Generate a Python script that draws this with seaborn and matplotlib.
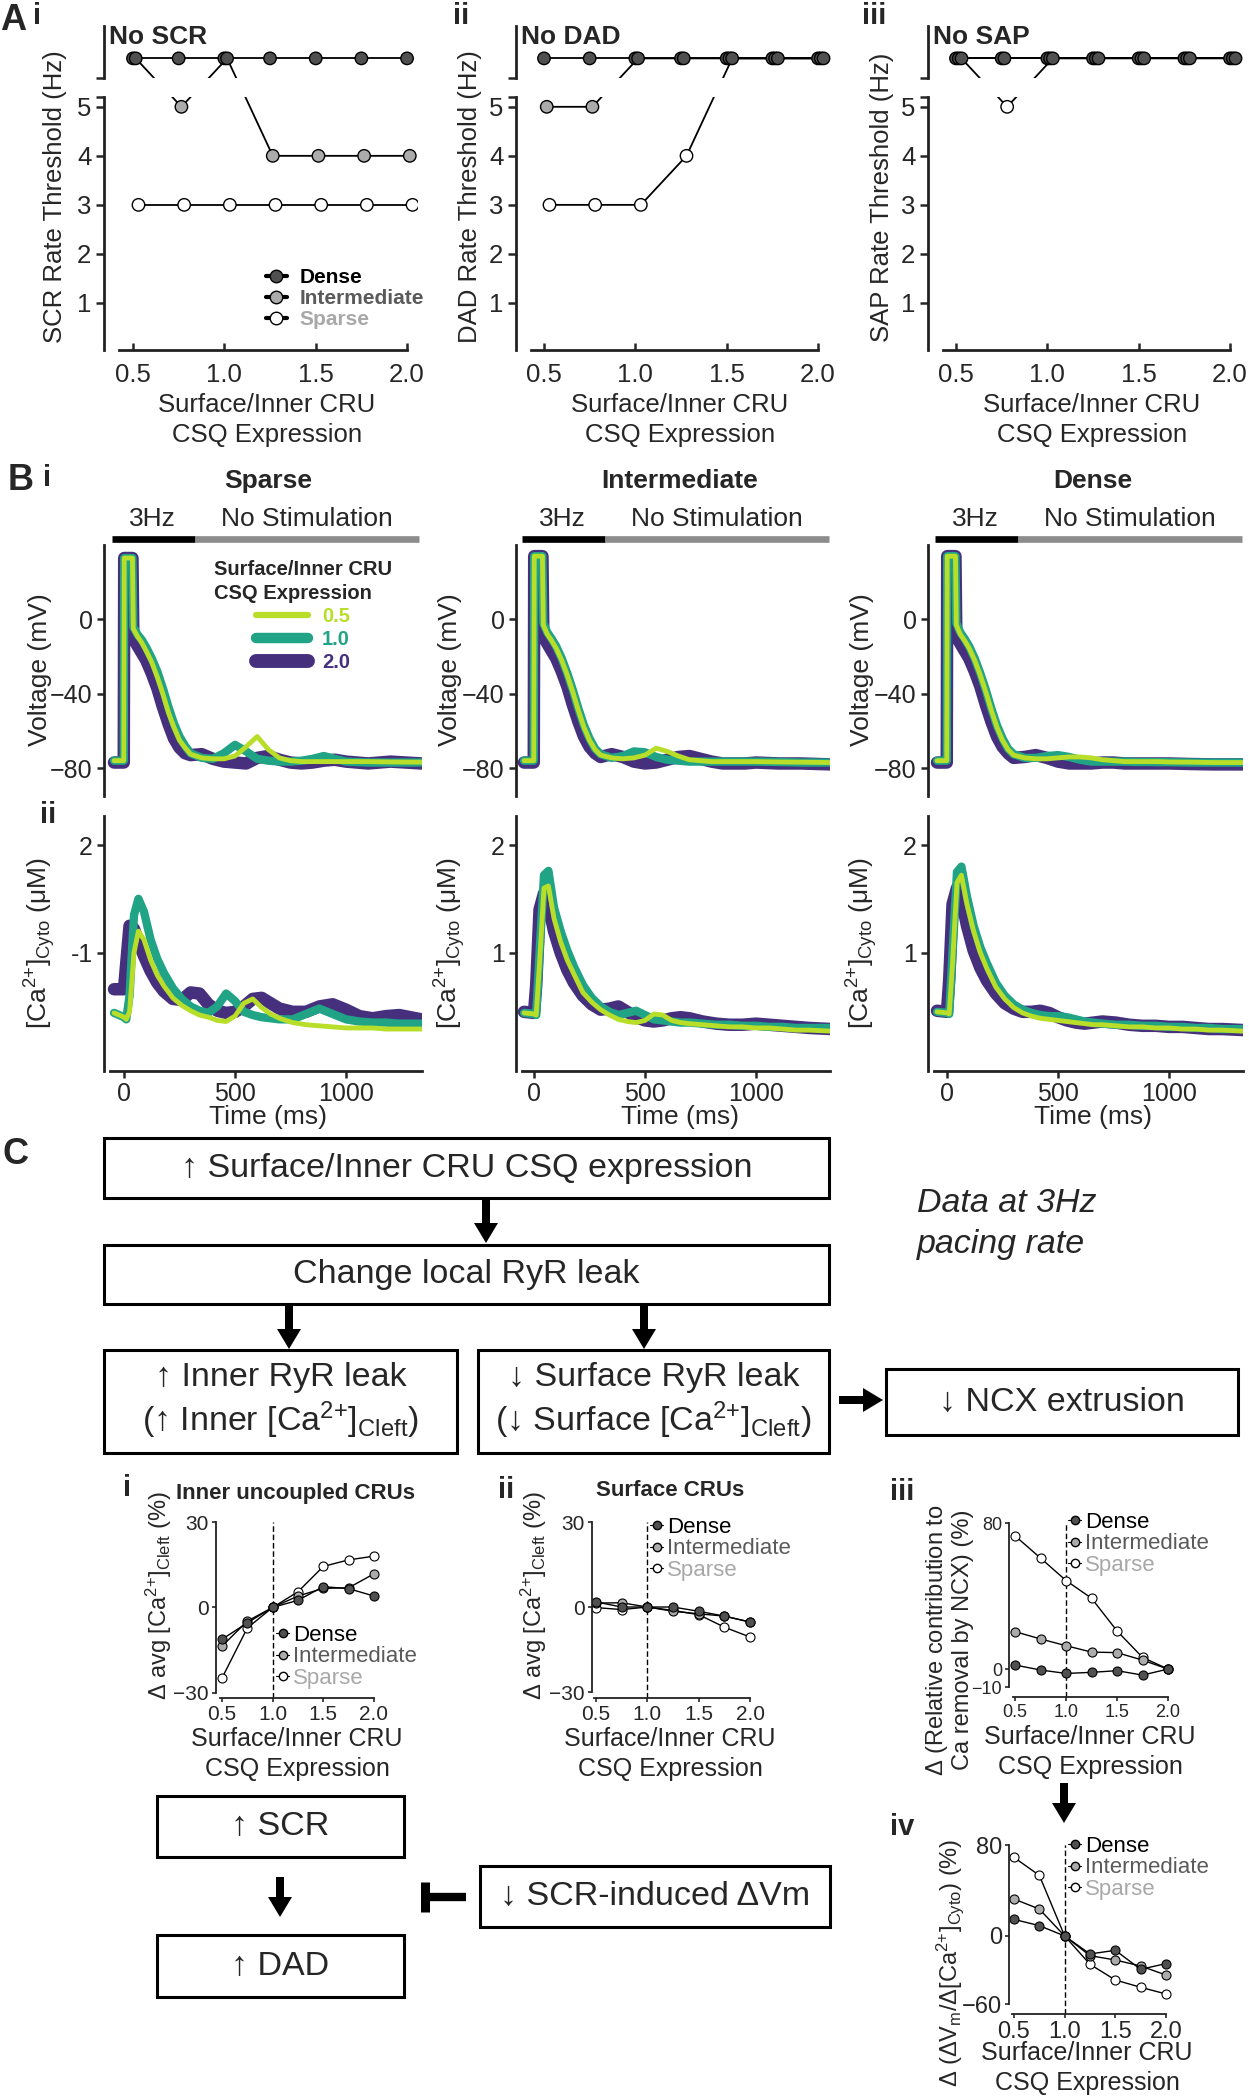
import matplotlib
matplotlib.use("Agg")
import matplotlib.pyplot as plt
import matplotlib.transforms as mtransforms
from matplotlib.patches import Rectangle, FancyArrow
from matplotlib.lines import Line2D
import seaborn as sns

W, H = 1249, 2100

# ---------------- data ----------------
csq = [0.5, 0.75, 1.0, 1.25, 1.5, 1.75, 2.0]
csq_ticks = [0.5, 1.0, 1.5, 2.0]
csq_ticklabels = ['0.5', '1.0', '1.5', '2.0']
NO_EVENT = 6  # value used for the "No SCR / No DAD / No SAP" row

# A: rate thresholds (Hz)
scr_dense = [6, 6, 6, 6, 6, 6, 6]
scr_inter = [6, 5, 6, 4, 4, 4, 4]
scr_sparse = [3, 3, 3, 3, 3, 3, 3]
dad_dense = [6, 6, 6, 6, 6, 6, 6]
dad_inter = [5, 5, 6, 6, 6, 6, 6]
dad_sparse = [3, 3, 3, 4, 6, 6, 6]
sap_dense = [6, 6, 6, 6, 6, 6, 6]
sap_inter = [6, 6, 6, 6, 6, 6, 6]
sap_sparse = [6, 5, 6, 6, 6, 6, 6]

# B: traces, voltage (mV) and cytosolic Ca (uM) at CSQ 0.5 / 1.0 / 2.0
tV = [-45, -1, 1, 38, 42, 60, 80, 100, 125, 150, 175, 200, 225, 250, 275, 300, 350, 400,
      450, 500, 550, 600, 650, 700, 750, 800, 850, 900, 950, 1000, 1100, 1200, 1340]
v_sp_05 = [-76, -76, 33, 33, -5, -9, -12.5, -17, -23, -31, -40, -50, -58, -65, -69, -72.5, -74.5, -75,
           -75, -73.5, -68.5, -63, -70, -74.5, -76, -76.5, -76.5, -76.5, -76.5, -76.5, -76.5, -76.7, -76.8]
v_sp_10 = [-76, -76, 33, 33, -4, -8, -11, -15, -21, -28, -37, -47, -56, -63, -68, -72, -74.5, -75,
           -72, -67.5, -71, -75, -76, -76.5, -76.5, -76, -75, -73.5, -75, -76.5, -77, -77, -77]
v_sp_20 = [-77, -77, 33, 33, -10, -14, -18, -22, -29, -37, -47, -56, -64, -69, -72, -73, -72.5, -75,
           -76.5, -77, -77.5, -74.5, -73.5, -75.5, -77, -77.5, -77, -76, -75.5, -76.5, -77.5, -76.5, -77.5]
v_in_05 = [-76, -76, 34, 34, -3, -8, -11.5, -15.5, -22, -30, -39, -49, -58, -65, -70, -73, -74.5, -75,
           -74.5, -73, -69.3, -71, -73.5, -75.5, -76, -76.5, -76.5, -76.5, -76.5, -76.5, -76.7, -76.8, -77]
v_in_10 = [-76, -76, 34, 34, -2, -7, -10.5, -14.5, -21, -29, -38, -48, -57, -64, -69.5, -72.5, -74.5, -73.5,
           -71, -71.5, -74, -75.5, -76, -76.5, -76.5, -76.5, -76.5, -76.5, -76.5, -76.5, -76.7, -77, -77]
v_in_20 = [-77, -77, 34, 34, -9, -13, -17, -21, -28, -36, -46, -55, -63, -68.5, -72, -74, -72.5, -74,
           -76.5, -77.5, -77, -75.5, -74, -73.5, -75, -76.5, -77.5, -77.5, -77.5, -77, -77.5, -77.5, -78]
v_de_05 = [-76, -76, 34, 34, -3, -8, -11.5, -15.5, -22, -30, -39, -49, -58, -65, -70, -73, -74.5, -75,
           -75, -74.5, -74, -74, -74.5, -75.5, -76, -76.5, -76.5, -76.5, -76.5, -76.7, -76.8, -77, -77]
v_de_10 = [-76, -76, 34, 34, -2, -7, -10.5, -14.5, -21, -29, -38, -48, -57, -64, -69.5, -72.5, -74.5, -74.5,
           -73.5, -73, -74, -75.5, -76.5, -76.5, -76.5, -76.5, -76.7, -76.7, -76.8, -76.8, -77, -77, -77]
v_de_20 = [-77, -77, 34, 34, -9, -13, -17, -21, -28, -36, -46, -55, -63, -68.5, -72, -74.5, -74, -73,
           -74.5, -76.5, -77.5, -77.5, -77.5, -77, -77, -77.5, -77.5, -77.5, -77.5, -77.5, -77.8, -78, -78]

tC = [-45, 0, 10, 25, 45, 65, 90, 120, 150, 180, 220, 260, 300, 340, 380, 420, 460, 500,
      540, 580, 620, 660, 700, 760, 820, 880, 940, 1000, 1060, 1120, 1180, 1240, 1340]
c_sp_05 = [0.44, 0.40, 0.38, 0.45, 1.0, 1.2, 1.12, 0.93, 0.79, 0.69, 0.58, 0.51, 0.46, 0.42, 0.40, 0.37, 0.36,
           0.41, 0.53, 0.57, 0.49, 0.43, 0.39, 0.35, 0.33, 0.32, 0.31, 0.30, 0.30, 0.30, 0.29, 0.29, 0.29]
c_sp_10 = [0.44, 0.40, 0.38, 0.6, 1.35, 1.5, 1.38, 1.12, 0.94, 0.81, 0.67, 0.57, 0.50, 0.46, 0.44, 0.50, 0.62,
           0.55, 0.45, 0.42, 0.40, 0.39, 0.38, 0.38, 0.43, 0.48, 0.43, 0.38, 0.36, 0.35, 0.35, 0.34, 0.34]
c_sp_20 = [0.66, 0.66, 0.9, 1.25, 1.22, 1.1, 0.97, 0.83, 0.72, 0.64, 0.57, 0.56, 0.63, 0.62, 0.52, 0.46, 0.44,
           0.45, 0.50, 0.57, 0.58, 0.53, 0.48, 0.45, 0.45, 0.50, 0.52, 0.47, 0.41, 0.39, 0.41, 0.42, 0.38]
c_in_05 = [0.44, 0.43, 0.42, 0.9, 1.6, 1.62, 1.32, 1.1, 0.93, 0.8, 0.63, 0.54, 0.47, 0.42, 0.38, 0.36, 0.35,
           0.37, 0.43, 0.42, 0.37, 0.35, 0.34, 0.33, 0.32, 0.31, 0.31, 0.30, 0.30, 0.29, 0.28, 0.28, 0.27]
c_in_10 = [0.44, 0.43, 0.42, 1.0, 1.72, 1.76, 1.42, 1.2, 1.02, 0.87, 0.70, 0.58, 0.50, 0.45, 0.42, 0.44, 0.46,
           0.42, 0.38, 0.37, 0.36, 0.35, 0.35, 0.34, 0.33, 0.33, 0.32, 0.32, 0.31, 0.31, 0.30, 0.30, 0.30]
c_in_20 = [0.45, 0.44, 0.7, 1.4, 1.55, 1.45, 1.2, 1.0, 0.84, 0.72, 0.60, 0.52, 0.47, 0.48, 0.50, 0.45, 0.40,
           0.37, 0.36, 0.37, 0.39, 0.40, 0.39, 0.36, 0.34, 0.33, 0.33, 0.34, 0.33, 0.32, 0.31, 0.30, 0.29]
c_de_05 = [0.45, 0.44, 0.43, 0.9, 1.65, 1.72, 1.45, 1.2, 1.0, 0.85, 0.68, 0.57, 0.49, 0.44, 0.41, 0.39, 0.38,
           0.37, 0.36, 0.35, 0.34, 0.33, 0.33, 0.32, 0.31, 0.31, 0.30, 0.30, 0.29, 0.29, 0.28, 0.28, 0.27]
c_de_10 = [0.45, 0.44, 0.43, 1.0, 1.75, 1.8, 1.52, 1.25, 1.05, 0.9, 0.72, 0.6, 0.52, 0.47, 0.44, 0.42, 0.41,
           0.41, 0.40, 0.38, 0.36, 0.35, 0.34, 0.33, 0.33, 0.32, 0.32, 0.31, 0.31, 0.30, 0.30, 0.29, 0.29]
c_de_20 = [0.46, 0.45, 0.75, 1.45, 1.6, 1.5, 1.25, 1.02, 0.86, 0.74, 0.62, 0.53, 0.48, 0.45, 0.45, 0.46, 0.44,
           0.40, 0.37, 0.35, 0.34, 0.35, 0.36, 0.35, 0.33, 0.32, 0.32, 0.31, 0.31, 0.30, 0.29, 0.29, 0.28]

# C: percent changes
ci_dense = [-11.2, -5.4, 0, 2.5, 7.3, 6.6, 4.0]
ci_inter = [-13.6, -4.8, 0, 4.0, 6.7, 6.9, 11.8]
ci_sparse = [-24.8, -7.2, 0, 5.5, 14.4, 16.7, 18.0]
cii_dense = [1.8, 0, 0, 0, -1.5, -3.2, -5.3]
cii_inter = [1.4, 1.5, 0, -1.5, -2.4, -3.2, -5.3]
cii_sparse = [-0.2, -0.9, 0, -1.2, -2.7, -7.1, -10.6]
ciii_dense = [2.2, -0.5, -2.4, -1.8, -0.9, -3.3, 0]
ciii_inter = [20.5, 16.5, 12.8, 9.3, 9.0, 4.9, 0]
ciii_sparse = [73.0, 60.8, 48.5, 38.8, 20.9, 6.4, 0]
civ_dense = [14.6, 9.1, 0, -15.8, -12.6, -29.3, -24.3]
civ_inter = [32.5, 23.7, 0, -17.3, -21.1, -26.4, -34.3]
civ_sparse = [69.1, 53.3, 0, -24.9, -38.7, -45.1, -51.0]

groups = ['Dense', 'Intermediate', 'Sparse']
group_text_colors = ['black', '#5a5a5a', '#a8a8a8']

# colours
DENSE_C = '#505050'
INTER_C = '#ababab'
SPARSE_C = 'white'
C05, C10, C20 = '#b8de29', '#21a386', '#46307e'

CA = '[Ca$^{2{+}}$]'

sns.set_style('ticks')
plt.rcParams['font.family'] = ['Liberation Sans', 'DejaVu Sans']
plt.rcParams['mathtext.fontset'] = 'custom'
plt.rcParams['mathtext.rm'] = 'Liberation Sans'
plt.rcParams['mathtext.it'] = 'Liberation Sans:italic'
plt.rcParams['mathtext.bf'] = 'Liberation Sans:bold'
plt.rcParams['axes.linewidth'] = 2.0
plt.rcParams['axes.edgecolor'] = '#222222'

fig = plt.figure(figsize=(W / 100, H / 100), dpi=100)

# overlay in pixel coordinates for the flow chart
ov = fig.add_axes([0, 0, 1, 1])
ov.set_xlim(0, W)
ov.set_ylim(H, 0)
ov.axis('off')


def add_ax(l, t, r, b):
    ax = fig.add_axes([l / W, 1 - b / H, (r - l) / W, (b - t) / H])
    ax.set_facecolor('none')
    return ax


def ftext(x, y, s, **kw):
    kw.setdefault('ha', 'center')
    kw.setdefault('va', 'center')
    fig.text(x / W, 1 - y / H, s, **kw)


# ---------------- panel A ----------------
def threshold_panel(l, r, zero_px, dense, inter, sparse, event, ylab_x, xlab_x, legend=False):
    ppu = 182.7
    xlo = 0.5 - (zero_px - l) / ppu
    xhi = xlo + (r - l) / ppu
    top = add_ax(l, 26, r, 78)
    bot = add_ax(l, 97, r, 350)
    series = [(dense, DENSE_C, 0.0), (inter, INTER_C, 0.015), (sparse, SPARSE_C, 0.03)]
    for ax in (top, bot):
        for vals, col, off in series:
            xs = [c + off for c in csq]
            sns.lineplot(x=xs, y=vals, ax=ax, color='black', lw=1.3, estimator=None,
                         sort=False, legend=False, zorder=2)
            faces = [DENSE_C if v == NO_EVENT else col for v in vals]
            ax.scatter(xs, vals, s=80, c=faces, edgecolors='black', linewidths=1.0, zorder=3)
        ax.set_xlim(xlo, xhi)
        ax.set_xlabel('')
        ax.set_ylabel('')
    top.set_ylim(5.6, 6.66)
    sns.despine(ax=top, bottom=True)
    top.set_xticks([])
    top.set_yticks([5.6])
    top.set_yticklabels([''])
    top.tick_params(axis='y', length=6, width=1.8)
    bot.set_ylim(0.04, 5.2)
    sns.despine(ax=bot)
    bot.spines['bottom'].set_bounds(xlo + 15 / ppu, 2.0)
    bot.set_yticks([1, 2, 3, 4, 5, 5.2])
    bot.set_yticklabels(['1', '2', '3', '4', '5', ''])
    bot.set_xticks(csq_ticks)
    bot.set_xticklabels(csq_ticklabels)
    bot.tick_params(axis='y', direction='out', length=6, width=1.8, labelsize=18.5, pad=3)
    bot.tick_params(axis='x', direction='in', length=5, width=1.8, labelsize=18.5, pad=9)
    ftext(ylab_x, 197, event + ' Rate Threshold (Hz)', rotation=90, fontsize=18.5)
    ftext(xlab_x, 420, 'Surface/Inner CRU\nCSQ Expression', fontsize=18.5, linespacing=1.35)
    ftext(l + 5, 37, 'No ' + event, ha='left', fontsize=19, fontweight='bold')
    if legend:
        handles = [Line2D([], [], color='black', lw=3, marker='o', ms=9, mfc=c, mec='black')
                   for c in (DENSE_C, INTER_C, SPARSE_C)]
        bot.legend(handles, groups, loc='upper left', bbox_to_anchor=(266 / W, 1 - 268 / H),
                   bbox_transform=fig.transFigure, frameon=False,
                   prop={'weight': 'bold', 'size': 15}, labelcolor=group_text_colors,
                   handlelength=1.0, handletextpad=0.6, labelspacing=0.1, borderpad=0,
                   borderaxespad=0)


threshold_panel(104, 418, 133, scr_dense, scr_inter, scr_sparse, 'SCR', 55, 267, legend=True)
threshold_panel(516, 836, 544, dad_dense, dad_inter, dad_sparse, 'DAD', 470, 680)
threshold_panel(928, 1247, 956, sap_dense, sap_inter, sap_sparse, 'SAP', 882, 1092)

ftext(0, 20, 'A', ha='left', fontsize=26, fontweight='bold')
ftext(33, 16, 'i', ha='left', fontsize=21, fontweight='bold')
ftext(453, 16, 'ii', ha='left', fontsize=21, fontweight='bold')
ftext(862, 16, 'iii', ha='left', fontsize=21, fontweight='bold')


# ---------------- panel B ----------------
def trace_panel(l, r, zero_px, title, cx, v_list, c_list, ca_ticklabels, lab_x, legend=False):
    ppms = 111 / 500
    xlo = -(zero_px - l) / ppms
    xhi = xlo + (r - l) / ppms
    axv = add_ax(l, 545, r, 796)
    axc = add_ax(l, 816, r, 1071)
    for ax, tt, traces in ((axv, tV, v_list), (axc, tC, c_list)):
        for vals, col, lw in zip(traces, [C20, C10, C05], [9, 6, 3.5]):
            sns.lineplot(x=tt, y=vals, ax=ax, color=col, lw=lw, estimator=None, sort=False,
                         legend=False, solid_joinstyle='round', solid_capstyle='round')
        ax.set_xlim(xlo, xhi)
        ax.set_xlabel('')
        ax.set_ylabel('')
    axv.set_ylim(-95, 40)
    sns.despine(ax=axv, bottom=True)
    axv.set_xticks([])
    axv.set_yticks([-80, -40, 0])
    axc.set_ylim(-0.1, 2.27)
    sns.despine(ax=axc)
    axc.spines['bottom'].set_bounds(xlo + 6 / ppms, xhi)
    axc.set_xticks([0, 500, 1000])
    axc.set_yticks([1, 2])
    axc.set_yticklabels(ca_ticklabels)
    for ax in (axv, axc):
        ax.tick_params(labelsize=18, length=5, width=1.8, pad=3)

    trans = mtransforms.blended_transform_factory(axv.transData, axv.transAxes)
    axv.plot([-52, 322], [1.024, 1.024], transform=trans, color='black', lw=4.8,
             solid_capstyle='butt', clip_on=False)
    axv.plot([322, 1328], [1.024, 1.024], transform=trans, color='#8c8c8c', lw=4.8,
             solid_capstyle='butt', clip_on=False)
    axv.text(130, 1.104, '3Hz', transform=trans, ha='center', va='center', fontsize=19)
    axv.text(824, 1.104, 'No Stimulation', transform=trans, ha='center', va='center', fontsize=19)

    ftext(cx, 481, title, fontsize=19, fontweight='bold')
    ftext(lab_x, 670, 'Voltage (mV)', rotation=90, fontsize=19)
    ftext(lab_x, 943, CA + '$_{\\mathrm{Cyto}}$ (μM)', rotation=90, fontsize=19)
    ftext(cx, 1117, 'Time (ms)', fontsize=19)

    if legend:
        handles = [Line2D([], [], color=C05, lw=4.5), Line2D([], [], color=C10, lw=7.5),
                   Line2D([], [], color=C20, lw=10)]
        leg = fig.legend(handles, ['0.5', '1.0', '2.0'], loc='upper center',
                         bbox_to_anchor=(303 / W, 1 - 550 / H), frameon=False,
                         title='Surface/Inner CRU\nCSQ Expression',
                         title_fontproperties={'weight': 'bold', 'size': 14.5},
                         prop={'weight': 'bold', 'size': 14.5}, labelcolor=[C05, C10, C20],
                         handlelength=2.6, handletextpad=0.7, labelspacing=0.2, borderpad=0,
                         alignment='center')
        leg.get_title().set_linespacing(1.3)


trace_panel(104, 422, 124, 'Sparse', 268, [v_sp_20, v_sp_10, v_sp_05],
            [c_sp_20, c_sp_10, c_sp_05], ['-1', '2'], 40, legend=True)
trace_panel(516, 830, 534, 'Intermediate', 680, [v_in_20, v_in_10, v_in_05],
            [c_in_20, c_in_10, c_in_05], ['1', '2'], 450)
trace_panel(928, 1243, 947, 'Dense', 1093, [v_de_20, v_de_10, v_de_05],
            [c_de_20, c_de_10, c_de_05], ['1', '2'], 862)

ftext(8, 480, 'B', ha='left', fontsize=26, fontweight='bold')
ftext(43, 478, 'i', ha='left', fontsize=21, fontweight='bold')
ftext(40, 815, 'ii', ha='left', fontsize=21, fontweight='bold')

# ---------------- panel C: flow chart ----------------
FLOW_FS = 24.5


def box(l, t, r, b, text):
    ov.add_patch(Rectangle((l, t), r - l, b - t, fill=False, lw=2.2, ec='black'))
    ov.text((l + r) / 2, (t + b) / 2, text, ha='center', va='center', fontsize=FLOW_FS)


def varrow(x, y0, y1):
    ov.add_patch(FancyArrow(x, y0, 0, y1 - y0, width=8, head_width=24, head_length=20,
                            length_includes_head=True, color='black', lw=0))


box(104, 1138, 829, 1198, '↑ Surface/Inner CRU CSQ expression')
box(104, 1245, 829, 1304, 'Change local RyR leak')
box(104, 1350, 457, 1453, '↑ Inner RyR leak\n(↑ Inner ' + CA + '$_{\\mathrm{Cleft}}$)')
box(478, 1350, 829, 1453, '↓ Surface RyR leak\n(↓ Surface ' + CA + '$_{\\mathrm{Cleft}}$)')
box(886, 1369, 1238, 1435, '↓ NCX extrusion')
box(157, 1796, 404, 1857, '↑ SCR')
box(157, 1935, 404, 1997, '↑ DAD')
box(480, 1866, 830, 1927, '↓ SCR-induced ΔVm')

varrow(486, 1200, 1243)
varrow(289, 1305, 1349)
varrow(644, 1305, 1349)
varrow(280, 1877, 1917)
varrow(1064, 1783, 1823)
ov.add_patch(FancyArrow(839, 1400, 44, 0, width=8, head_width=24, head_length=20,
                        length_includes_head=True, color='black', lw=0))
ov.plot([425, 466], [1897, 1897], color='black', lw=6, solid_capstyle='butt')
ov.plot([425, 425], [1882, 1912], color='black', lw=6.5, solid_capstyle='butt')

ftext(917, 1203, 'Data at 3Hz', ha='left', fontsize=24.5, fontstyle='italic')
ftext(917, 1244, 'pacing rate', ha='left', fontsize=24.5, fontstyle='italic')
ftext(3, 1154, 'C', ha='left', fontsize=26, fontweight='bold')


# ---------------- panel C: small plots ----------------
def change_panel(l, r, top, bottom, zero_px, ppu, ylim, ybounds, yticks, dense, inter, sparse,
                 tick_fs, leg_xy):
    ax = add_ax(l, top, r, bottom)
    xlo = 0.5 - (zero_px - l) / ppu
    xhi = xlo + (r - l) / ppu
    ax.axvline(1.0, color='black', lw=1.0, ls=(0, (4, 2)), zorder=1)
    for vals, col in ((sparse, SPARSE_C), (inter, INTER_C), (dense, DENSE_C)):
        sns.lineplot(x=csq, y=vals, ax=ax, color='black', lw=1.0, marker='o', markersize=6.5,
                     markerfacecolor=col, markeredgecolor='black', markeredgewidth=0.8,
                     estimator=None, sort=False, legend=False)
    ax.set_xlim(xlo, xhi)
    ax.set_ylim(*ylim)
    ax.set_xlabel('')
    ax.set_ylabel('')
    sns.despine(ax=ax)
    for s in ('left', 'bottom'):
        ax.spines[s].set_linewidth(1.3)
    ax.spines['left'].set_bounds(*ybounds)
    ax.spines['bottom'].set_bounds(0.48, 2.0)
    ax.set_xticks(csq_ticks)
    ax.set_xticklabels(csq_ticklabels)
    ax.set_yticks(yticks)
    ax.tick_params(labelsize=tick_fs, length=3, width=1.2, pad=2)
    handles = [Line2D([], [], color='black', lw=0.8, marker='o', ms=6, mfc=c, mec='black')
               for c in (DENSE_C, INTER_C, SPARSE_C)]
    ax.legend(handles, groups, loc='upper left', bbox_to_anchor=(leg_xy[0] / W, 1 - leg_xy[1] / H),
              bbox_transform=fig.transFigure, frameon=False, fontsize=16,
              labelcolor=group_text_colors, handlelength=0.6, handletextpad=0.15,
              labelspacing=0.02, borderpad=0, borderaxespad=0)


XLAB = 'Surface/Inner CRU\nCSQ Expression'
CLEFT = '$\\Delta$ avg ' + CA + '$_{\\mathrm{Cleft}}$ (%)'

change_panel(216, 380, 1522, 1698, 222, 101.3, (-31.8, 30), (-30, 30), [-30, 0, 30],
             ci_dense, ci_inter, ci_sparse, 15, (276, 1625))
ftext(295, 1493, 'Inner uncoupled CRUs', fontsize=16, fontweight='bold')
ftext(159, 1596, CLEFT, rotation=90, fontsize=17)
ftext(297, 1754, XLAB, fontsize=18, linespacing=1.3)
ftext(127, 1488, 'i', fontsize=21, fontweight='bold')

change_panel(592, 756, 1522, 1698, 596, 102.7, (-32.1, 30), (-30, 30), [-30, 0, 30],
             cii_dense, cii_inter, cii_sparse, 15, (650, 1517))
ftext(670, 1490, 'Surface CRUs', fontsize=16, fontweight='bold')
ftext(534, 1596, CLEFT, rotation=90, fontsize=17)
ftext(670, 1754, XLAB, fontsize=18, linespacing=1.3)
ftext(506, 1490, 'ii', fontsize=21, fontweight='bold')

change_panel(1009, 1175, 1523, 1697, 1015, 102, (-15.3, 80), (-10, 80), [-10, 0, 80],
             ciii_dense, ciii_inter, ciii_sparse, 13, (1068, 1512))
ftext(949, 1640, '$\\Delta$ (Relative contribution to\nCa removal by NCX) (%)', rotation=90,
      fontsize=17, linespacing=1.15)
ftext(1090, 1752, XLAB, fontsize=18, linespacing=1.3)
ftext(902, 1492, 'iii', fontsize=21, fontweight='bold')

change_panel(1009, 1172, 1845, 2014, 1014, 101.3, (-68.6, 80), (-60, 80), [-60, 0, 80],
             civ_dense, civ_inter, civ_sparse, 17, (1068, 1836))
ftext(950, 1963, '$\\Delta$ ($\\Delta$V$_{\\mathrm{m}}$/$\\Delta$' + CA + '$_{\\mathrm{Cyto}}$) (%)',
      rotation=90, fontsize=17)
ftext(1087, 2068, XLAB, fontsize=18, linespacing=1.3)
ftext(902, 1827, 'iv', fontsize=21, fontweight='bold')

fig.savefig('out.png', dpi=100)
